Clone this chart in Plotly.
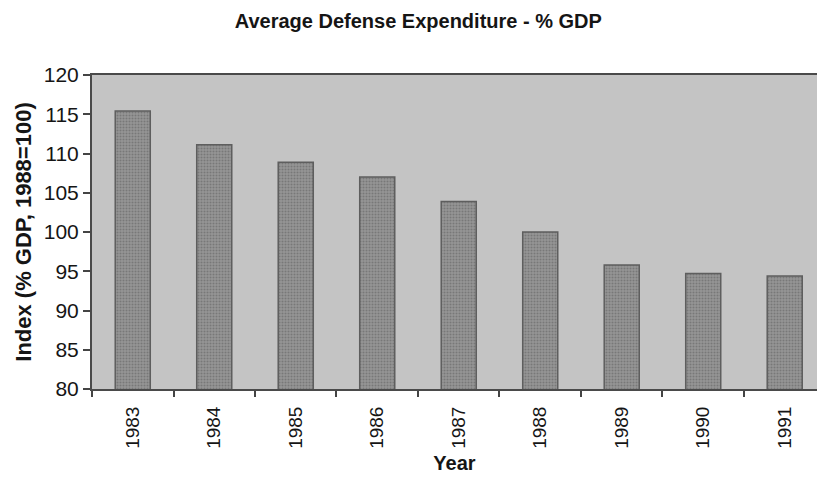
import plotly.graph_objects as go

# Defense spending index by year (% of GDP, 1988 = 100)
years = ["1983", "1984", "1985", "1986", "1987", "1988", "1989", "1990", "1991"]
index_values = [115.4, 111.1, 108.9, 107.0, 103.9, 100.0, 95.8, 94.7, 94.4]
y_ticks = [80, 85, 90, 95, 100, 105, 110, 115, 120]

FONT = "Liberation Sans, Arial, sans-serif"
INK = "#151515"

fig = go.Figure(
    go.Bar(
        x=years,
        y=index_values,
        width=0.43,
        marker=dict(
            color="#858585",
            line=dict(color="#5e5e5e", width=1.5),
            pattern=dict(shape=".", size=3, solidity=0.4,
                         fgcolor="#5a5a5a", bgcolor="#969696"),
        ),
        showlegend=False,
    )
)

fig.update_layout(
    width=817,
    height=482,
    margin=dict(l=92, r=0, t=75, b=93),
    paper_bgcolor="white",
    plot_bgcolor="#c4c4c4",
    title=dict(
        text="<b>Average Defense Expenditure - % GDP</b>",
        x=0.512, xanchor="center", y=0.957, yanchor="middle",
        font=dict(family=FONT, size=20, color=INK),
    ),
    font=dict(family=FONT, color=INK),
)

fig.update_xaxes(
    type="category",
    range=[-0.5, 8.396],
    tickson="boundaries",
    ticks="outside",
    ticklen=6,
    tickwidth=1.5,
    tickcolor="#444",
    tickangle=-90,
    ticklabelstandoff=8,
    tickfont=dict(size=19, family=FONT, color=INK),
    showline=True,
    mirror=True,
    linecolor="#4a4a4a",
    linewidth=2,
    showgrid=False,
    title=dict(text="<b>Year</b>", font=dict(size=20, family=FONT, color=INK),
               standoff=8),
)

fig.update_yaxes(
    range=[80, 120],
    tickvals=y_ticks,
    ticks="outside",
    ticklen=7,
    tickwidth=1.5,
    tickcolor="#444",
    tickfont=dict(size=21, family=FONT, color=INK),
    showline=True,
    linecolor="#4a4a4a",
    linewidth=2,
    showgrid=False,
    zeroline=False,
    title=dict(text="<b>Index (% GDP, 1988=100)</b>",
               font=dict(size=22, family=FONT, color=INK), standoff=6),
)

fig.write_html("out.html")
